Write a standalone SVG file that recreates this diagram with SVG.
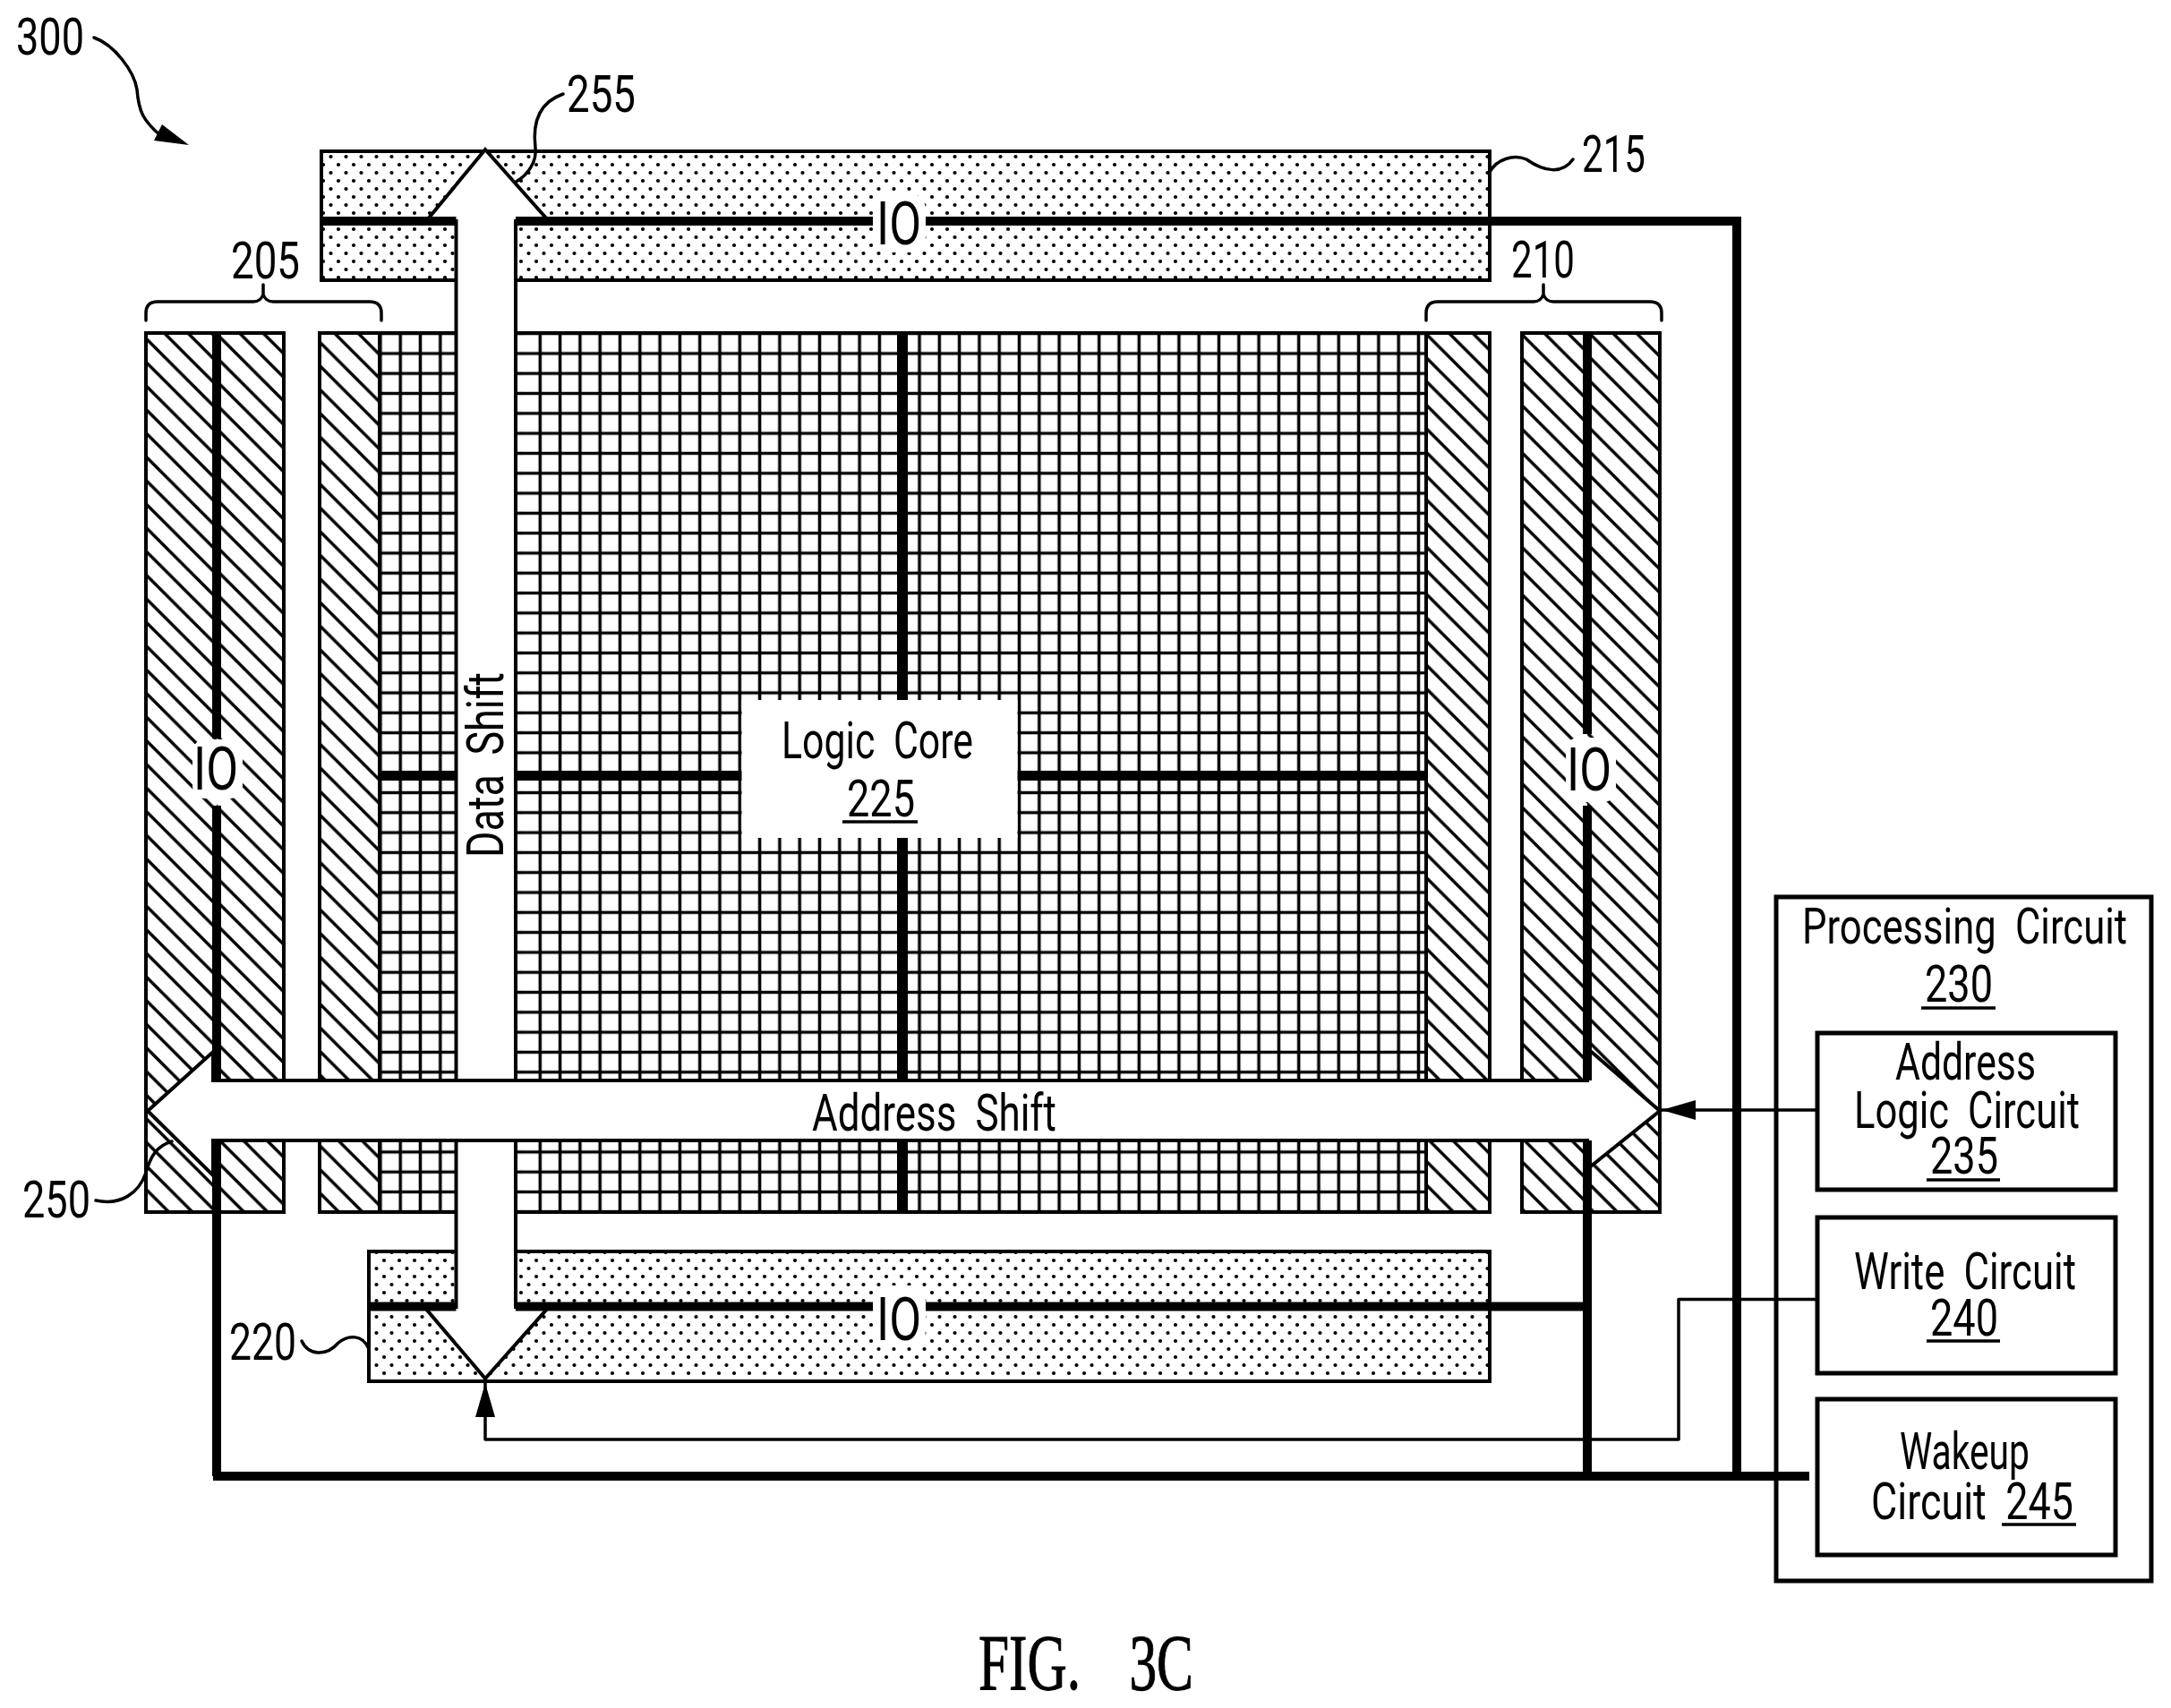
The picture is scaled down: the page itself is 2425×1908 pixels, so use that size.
<svg xmlns="http://www.w3.org/2000/svg" width="2425" height="1908" viewBox="0 0 2425 1908">
<style>
.t{font-family:Roboto,"Liberation Sans",sans-serif;font-weight:400;font-size:43px;fill:#000;word-spacing:10px}
.s{font-size:41.500px}
.io{font-size:50px}
.fig{font-family:"Liberation Serif",serif;font-size:66px;fill:#000;stroke:#000;stroke-width:.8;word-spacing:42px}
.b{stroke:#000;stroke-width:4;fill:none}
.box{stroke:#000;stroke-width:5;fill:#fff}
.th{stroke:#000;stroke-width:10;fill:none}
.w{stroke:#000;stroke-width:3.500;fill:none;stroke-linecap:round;stroke-linejoin:round}
.ar{stroke:#000;stroke-width:4;fill:#fff;stroke-linejoin:miter}
.u{stroke:#000;stroke-width:3.500}
</style>
<defs>
<pattern id="h" patternUnits="userSpaceOnUse" width="26.4" height="26.4"><path d="M-5-5L31.4 31.4M-5 21.4L5 31.4M21.4-5L31.4 5" stroke="#000" stroke-width="3.500" fill="none"/></pattern>
<pattern id="h1" href="#h" y="3.800"/>
<pattern id="h2" href="#h" y="25.400"/>
<pattern id="h3" href="#h" y="25"/>
<pattern id="h4" href="#h" y="20.800"/>
<pattern id="h5" href="#h" y="20"/>
<pattern id="h6" href="#h" y="22.600"/>
<pattern id="g" patternUnits="userSpaceOnUse" x="770.55" y="740.55" width="22.3" height="22.3"><path d="M11.15 0V22.3M0 11.15H22.3" stroke="#000" stroke-width="3.500" fill="none"/></pattern>
<pattern id="gh" patternUnits="userSpaceOnUse" x="770.55" y="740.55" width="22.3" height="22.3"><path d="M0 11.15H22.3" stroke="#000" stroke-width="3.500" fill="none"/></pattern>
<pattern id="d" patternUnits="userSpaceOnUse" width="17" height="18"><circle cx="4" cy="4" r="2.100"/><circle cx="12.500" cy="13" r="2.100"/></pattern>
<marker id="a" markerUnits="userSpaceOnUse" markerWidth="38" markerHeight="22" refX="38" refY="11" orient="auto"><path d="M0 0L38 11L0 22z"/></marker>
</defs>
<rect width="2425" height="1908" fill="#fff"/>

<g id="n205">
<rect x="163" y="372" width="154" height="982" fill="#fff"/>
<rect x="163" y="372" width="79" height="982" fill="url(#h1)"/>
<rect x="242" y="372" width="75" height="982" fill="url(#h2)"/>
<rect x="163" y="372" width="154" height="982" class="b"/>
<rect x="357" y="372" width="67" height="982" fill="#fff"/>
<rect x="357" y="372" width="67" height="982" fill="url(#h3)"/>
<rect x="357" y="372" width="67" height="982" class="b"/>
<path class="w" d="M163 358V350Q163 337 176 337H283Q291 337 294 329Q297 337 305 337H413Q426 337 426 350V358M294 329V318"/>
<text class="t" transform="translate(258 311) scale(1 1.35)" textLength="77" lengthAdjust="spacingAndGlyphs">205</text>
</g>

<g id="n225">
<rect x="424" y="372" width="1169" height="982" fill="#fff"/>
<rect x="424" y="372" width="86" height="982" fill="url(#g)"/>
<rect x="576" y="372" width="8" height="982" fill="url(#gh)"/>
<rect x="584" y="372" width="1009" height="982" fill="url(#g)"/>
<rect x="424" y="372" width="1169" height="982" class="b"/>
<path class="th" d="M1008 372V782M1008 936V1207M1008 1274V1354" style="stroke-width:12"/>
<path class="th" d="M424 866.5H830M1136 866.5H1593" style="stroke-width:11"/>
<rect x="828.5" y="782" width="308" height="154" fill="#fff"/>
<text class="t" transform="translate(873 847) scale(1 1.35)" textLength="214" lengthAdjust="spacingAndGlyphs">Logic Core</text>
<text class="t" transform="translate(946 912) scale(1 1.35)" textLength="76" lengthAdjust="spacingAndGlyphs">225</text>
<line class="u" x1="941" y1="918" x2="1025" y2="918"/>
</g>

<g id="n210">
<rect x="1593" y="372" width="71" height="982" fill="#fff"/>
<rect x="1593" y="372" width="71" height="982" fill="url(#h4)"/>
<rect x="1593" y="372" width="71" height="982" class="b"/>
<rect x="1700" y="372" width="154" height="982" fill="#fff"/>
<rect x="1700" y="372" width="73" height="982" fill="url(#h5)"/>
<rect x="1773" y="372" width="81" height="982" fill="url(#h6)"/>
<rect x="1700" y="372" width="154" height="982" class="b"/>
<path class="w" d="M1593 358V350Q1593 337 1606 337H1713Q1721 337 1724 329Q1727 337 1735 337H1843Q1856 337 1856 350V358M1724 329V318"/>
<text class="t" transform="translate(1688 310) scale(1 1.35)" textLength="71" lengthAdjust="spacingAndGlyphs">210</text>
</g>

<g id="n215">
<rect x="359" y="169" width="1305" height="144" fill="#fff"/>
<rect x="359" y="169" width="1305" height="144" fill="url(#d)"/>
<rect x="359" y="169" width="1305" height="144" class="b"/>
<rect x="975" y="216" width="59" height="66" rx="18" fill="#fff"/>
<text class="t" transform="translate(1767 192) scale(1 1.35)" textLength="71" lengthAdjust="spacingAndGlyphs">215</text>
<text class="t io" transform="translate(979 273) scale(1 1.35)" textLength="50" lengthAdjust="spacingAndGlyphs">IO</text>
</g>

<g id="n220">
<rect x="412" y="1398" width="1252" height="145" fill="#fff"/>
<rect x="412" y="1398" width="1252" height="145" fill="url(#d)"/>
<rect x="412" y="1398" width="1252" height="145" class="b"/>
<rect x="975" y="1436" width="59" height="68" rx="18" fill="#fff"/>
<text class="t" transform="translate(256 1519) scale(1 1.35)" textLength="75" lengthAdjust="spacingAndGlyphs">220</text>
<text class="t io" transform="translate(979 1497) scale(1 1.35)" textLength="50" lengthAdjust="spacingAndGlyphs">IO</text>
</g>

<g id="n255">
<path class="ar" d="M476 247L542 167L613 247H576V1460H613L542 1540L474 1460H509.500V247z"/>
<text class="t" transform="translate(562 958) rotate(-90) scale(1 1.35)" textLength="207" lengthAdjust="spacingAndGlyphs">Data Shift</text>
<text class="t" transform="translate(633 125) scale(1 1.35)" textLength="77" lengthAdjust="spacingAndGlyphs">255</text>
</g>

<g id="n250">
<path class="ar" d="M165 1241L238 1175V1207H1773V1171L1854 1241L1773 1306V1274H238V1313z"/>
<text class="t" transform="translate(907 1263) scale(1 1.35)" textLength="273" lengthAdjust="spacingAndGlyphs">Address Shift</text>
<text class="t" transform="translate(25 1360) scale(1 1.35)" textLength="76" lengthAdjust="spacingAndGlyphs">250</text>
</g>

<g id="n-io-left">
<rect x="215" y="826" width="56" height="66" rx="14" fill="#fff"/>
<text class="t io" transform="translate(216 882) scale(1 1.35)" textLength="50" lengthAdjust="spacingAndGlyphs">IO</text>
</g>
<g id="n-io-right">
<rect x="1749" y="824" width="56" height="72" rx="14" fill="#fff"/>
<text class="t io" transform="translate(1750 883) scale(1 1.35)" textLength="50" lengthAdjust="spacingAndGlyphs">IO</text>
</g>

<g id="n230">
<rect x="1984" y="1002" width="419" height="764" class="box"/>
<text class="t s" transform="translate(2013 1054) scale(1 1.35)" textLength="363" lengthAdjust="spacingAndGlyphs">Processing Circuit</text>
<text class="t" transform="translate(2150 1119) scale(1 1.35)" textLength="76" lengthAdjust="spacingAndGlyphs">230</text>
<line class="u" x1="2146" y1="1126" x2="2229" y2="1126"/>
</g>
<g id="n235">
<rect x="2030" y="1154" width="333" height="175" class="box"/>
<text class="t" transform="translate(2117 1206) scale(1 1.35)" textLength="157" lengthAdjust="spacingAndGlyphs">Address</text>
<text class="t" transform="translate(2071 1260) scale(1 1.35)" textLength="252" lengthAdjust="spacingAndGlyphs">Logic Circuit</text>
<text class="t" transform="translate(2156 1311) scale(1 1.35)" textLength="76" lengthAdjust="spacingAndGlyphs">235</text>
<line class="u" x1="2152" y1="1318" x2="2234" y2="1318"/>
</g>
<g id="n240">
<rect x="2030" y="1360" width="333" height="174" class="box"/>
<text class="t" transform="translate(2071 1440) scale(1 1.35)" textLength="248" lengthAdjust="spacingAndGlyphs">Write Circuit</text>
<text class="t" transform="translate(2156 1492) scale(1 1.35)" textLength="76" lengthAdjust="spacingAndGlyphs">240</text>
<line class="u" x1="2152" y1="1498" x2="2234" y2="1498"/>
</g>
<g id="n245">
<rect x="2030" y="1563" width="333" height="174" class="box"/>
<text class="t" transform="translate(2122 1641) scale(1 1.35)" textLength="145" lengthAdjust="spacingAndGlyphs">Wakeup</text>
<text class="t" transform="translate(2090 1697) scale(1 1.35)" textLength="226" lengthAdjust="spacingAndGlyphs">Circuit 245</text>
<line class="u" x1="2236" y1="1703" x2="2319" y2="1703"/>
</g>

<g id="n300">
<text class="t" transform="translate(18 61) scale(1 1.35)" textLength="76" lengthAdjust="spacingAndGlyphs">300</text>
</g>
<g id="n-fig">
<text class="fig" transform="translate(1093 1887) scale(1 1.333)" textLength="240" lengthAdjust="spacingAndGlyphs">FIG. 3C</text>
</g>

<g id="connectors">
<path class="th" d="M359 247H509.500M576 247H975M1034 247H1945M1940 247V1649"/>
<path class="th" d="M412 1459.500H509.500M576 1459.500H975M1034 1459.500H1773"/>
<path class="th" d="M242 372V825M242 900V1207M242 1274V1649M1773 372V820M1773 900V1207M1773 1274V1649M238 1649H2021"/>
<path class="w" d="M2030 1240H1856" marker-end="url(#a)"/>
<path class="w" d="M2030 1451.500H1875V1608H542V1545" marker-end="url(#a)"/>
<path class="w" d="M105 42C128 50 150 80 153 100C155 125 160 135 180 152"/>
<path d="M211 162L172 157L181 139z"/>
<path class="w" d="M629 105C600 115 595 140 598 165C600 180 590 195 576.500 203"/>
<path class="w" d="M1664 192C1672 178 1690 172 1705 178C1725 192 1745 195 1757 178"/>
<path class="w" d="M337 1498C345 1515 365 1515 378 1500C390 1490 405 1492 411 1505"/>
<path class="w" d="M107 1341C135 1347 155 1333 163 1310C168 1292 175 1280 192 1275"/>
</g>
</svg>
